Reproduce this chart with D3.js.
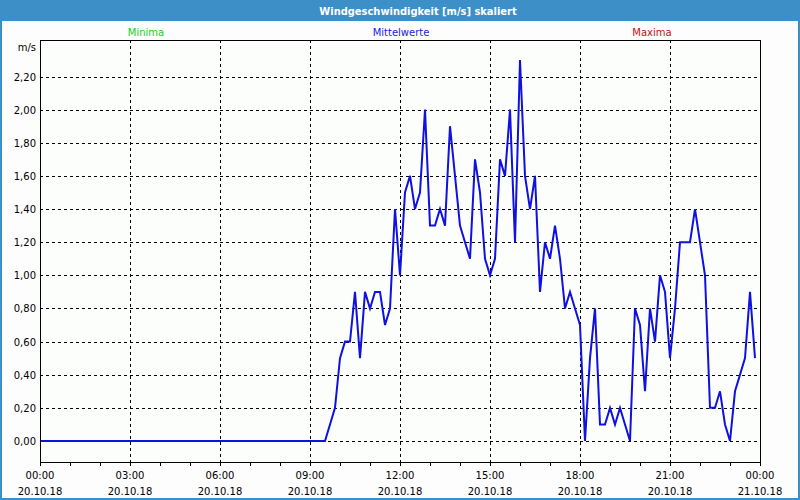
<!DOCTYPE html>
<html>
<head>
<meta charset="utf-8">
<script src="https://cdn.jsdelivr.net/npm/d3@7"></script>
<style>
  html, body { margin: 0; padding: 0; background: #ffffff; }
  svg { display: block; }
  text { font-family: "DejaVu Sans", Verdana, sans-serif; }
</style>
</head>
<body>
<svg id="chart" width="800" height="500"></svg>
<script>
// ---- Data ----
const chartTitle = "Windgeschwindigkeit [m/s] skaliert";
const legendLabels = ["Minima", "Mittelwerte", "Maxima"];
const yUnit = "m/s";
const yTickValues = [0, 0.2, 0.4, 0.6, 0.8, 1.0, 1.2, 1.4, 1.6, 1.8, 2.0, 2.2];
const xTickHours = [0, 3, 6, 9, 12, 15, 18, 21, 24];
const startTime = new Date(2018, 9, 20, 0, 0);
const endTime = new Date(2018, 9, 21, 0, 0);
const stepMinutes = 10;
// Mittelwerte, one value every 10 minutes from 20.10.18 00:00 to 23:50
const meanValues = [
  0,0,0,0,0,0,                                          // 00:00
  0,0,0,0,0,0,                                          // 01:00
  0,0,0,0,0,0,                                          // 02:00
  0,0,0,0,0,0,                                          // 03:00
  0,0,0,0,0,0,                                          // 04:00
  0,0,0,0,0,0,                                          // 05:00
  0,0,0,0,0,0,                                          // 06:00
  0,0,0,0,0,0,                                          // 07:00
  0,0,0,0,0,0,                                          // 08:00
  0,0,0,0.0,0.1,0.2,                                    // 09:00
  0.5,0.6,0.6,0.9,0.5,0.9,                              // 10:00
  0.8,0.9,0.9,0.7,0.8,1.4,                              // 11:00
  1.0,1.5,1.6,1.4,1.5,2.0,                              // 12:00
  1.3,1.3,1.4,1.3,1.9,1.6,                              // 13:00
  1.3,1.2,1.1,1.7,1.5,1.1,                              // 14:00
  1.0,1.1,1.7,1.6,2.0,1.2,                              // 15:00
  2.3,1.6,1.4,1.6,0.9,1.2,                              // 16:00
  1.1,1.3,1.1,0.8,0.9,0.8,                              // 17:00
  0.7,0.0,0.5,0.8,0.1,0.1,                              // 18:00
  0.2,0.1,0.2,0.1,0.0,0.8,                              // 19:00
  0.7,0.3,0.8,0.6,1.0,0.9,                              // 20:00
  0.5,0.8,1.2,1.2,1.2,1.4,                              // 21:00
  1.2,1.0,0.2,0.2,0.3,0.1,                              // 22:00
  0.0,0.3,0.4,0.5,0.9,0.5                               // 23:00
];

// ---- Layout ----
const W = 800, H = 500;
const plotLeft = 40, plotRight = 760, plotTop = 40, plotBottom = 462;
const blue = "#3d8fc7";

const svg = d3.select("#chart");

// outer frame + background
svg.append("rect").attr("x", 0).attr("y", 0).attr("width", W).attr("height", H).attr("fill", blue);
svg.append("rect").attr("x", 2).attr("y", 21).attr("width", W - 4).attr("height", H - 23).attr("fill", "#fcfdfc");

// title
svg.append("text")
  .attr("x", W / 2 + 18).attr("y", 15)
  .attr("text-anchor", "middle")
  .attr("fill", "#ffffff")
  .attr("font-weight", "bold")
  .attr("font-size", 11)
  .style("font-stretch", "condensed")
  .text(chartTitle);

// scales
const x = d3.scaleTime().domain([startTime, endTime]).range([plotLeft, plotRight]);
const y = d3.scaleLinear().domain([0, 2.2]).range([441, 76.5]);

// legend
const legendX = [146, 401, 652];
const legendColors = ["#22cc22", "#2020e6", "#c01010"];
legendLabels.forEach((l, i) => {
  svg.append("text")
    .attr("x", legendX[i]).attr("y", 36)
    .attr("text-anchor", "middle")
    .attr("font-size", 10)
    .attr("fill", legendColors[i])
    .text(l);
});

// plot background
svg.append("rect")
  .attr("x", plotLeft).attr("y", plotTop)
  .attr("width", plotRight - plotLeft).attr("height", plotBottom - plotTop)
  .attr("fill", "#fcfefc");

// horizontal grid
const grid = svg.append("g");
grid.selectAll("line.h").data(yTickValues).join("line")
  .attr("x1", plotLeft).attr("x2", plotRight)
  .attr("y1", d => Math.round(y(d)) + 0.5).attr("y2", d => Math.round(y(d)) + 0.5)
  .attr("stroke", "#000").attr("stroke-width", 1).attr("stroke-dasharray", "3,3");

// vertical grid (3h)
const xGridTimes = xTickHours.slice(1, -1).map(h => d3.timeHour.offset(startTime, h));
grid.selectAll("line.v").data(xGridTimes).join("line")
  .attr("y1", plotTop).attr("y2", plotBottom)
  .attr("x1", d => Math.round(x(d)) + 0.5).attr("x2", d => Math.round(x(d)) + 0.5)
  .attr("stroke", "#000").attr("stroke-width", 1).attr("stroke-dasharray", "3,3");

// y labels
const fmtY = v => d3.format(".2f")(v).replace(".", ",");
svg.append("g").selectAll("text").data(yTickValues).join("text")
  .attr("x", 36).attr("y", d => y(d) + 4)
  .attr("text-anchor", "end")
  .attr("font-size", 10)
  .attr("fill", "#000")
  .text(fmtY);
svg.append("text").attr("x", 36).attr("y", 51).attr("text-anchor", "end")
  .attr("font-size", 10).attr("fill", "#000").text(yUnit);

// x axis ticks (hourly minor, 3h major)
const hourTicks = d3.timeHour.range(startTime, d3.timeHour.offset(endTime, 1));
svg.append("g").selectAll("line").data(hourTicks).join("line")
  .attr("x1", d => Math.round(x(d)) + 0.5).attr("x2", d => Math.round(x(d)) + 0.5)
  .attr("y1", plotBottom).attr("y2", plotBottom + 4)
  .attr("stroke", "#000");

const fmtTime = d3.timeFormat("%H:%M");
const fmtDate = d3.timeFormat("%d.%m.%y");
const xLabelTimes = xTickHours.map(h => d3.timeHour.offset(startTime, h));
const xl = svg.append("g").selectAll("g").data(xLabelTimes).join("g")
  .attr("transform", d => `translate(${x(d)},0)`);
xl.append("text").attr("y", 479).attr("text-anchor", "middle").attr("font-size", 10).text(fmtTime);
xl.append("text").attr("y", 495).attr("text-anchor", "middle").attr("font-size", 10).text(fmtDate);

// data line
const series = meanValues.map((v, i) => ({ t: d3.timeMinute.offset(startTime, i * stepMinutes), v }));
const line = d3.line().x(d => x(d.t)).y(d => y(d.v));
svg.append("path")
  .datum(series)
  .attr("d", line)
  .attr("fill", "none")
  .attr("stroke", "#1010e0")
  .attr("stroke-width", 2)
  .attr("stroke-linejoin", "miter");

// plot frame
svg.append("rect")
  .attr("x", plotLeft + 0.5).attr("y", plotTop + 0.5)
  .attr("width", plotRight - plotLeft).attr("height", plotBottom - plotTop)
  .attr("fill", "none").attr("stroke", "#000").attr("stroke-width", 1);
</script>
</body>
</html>
